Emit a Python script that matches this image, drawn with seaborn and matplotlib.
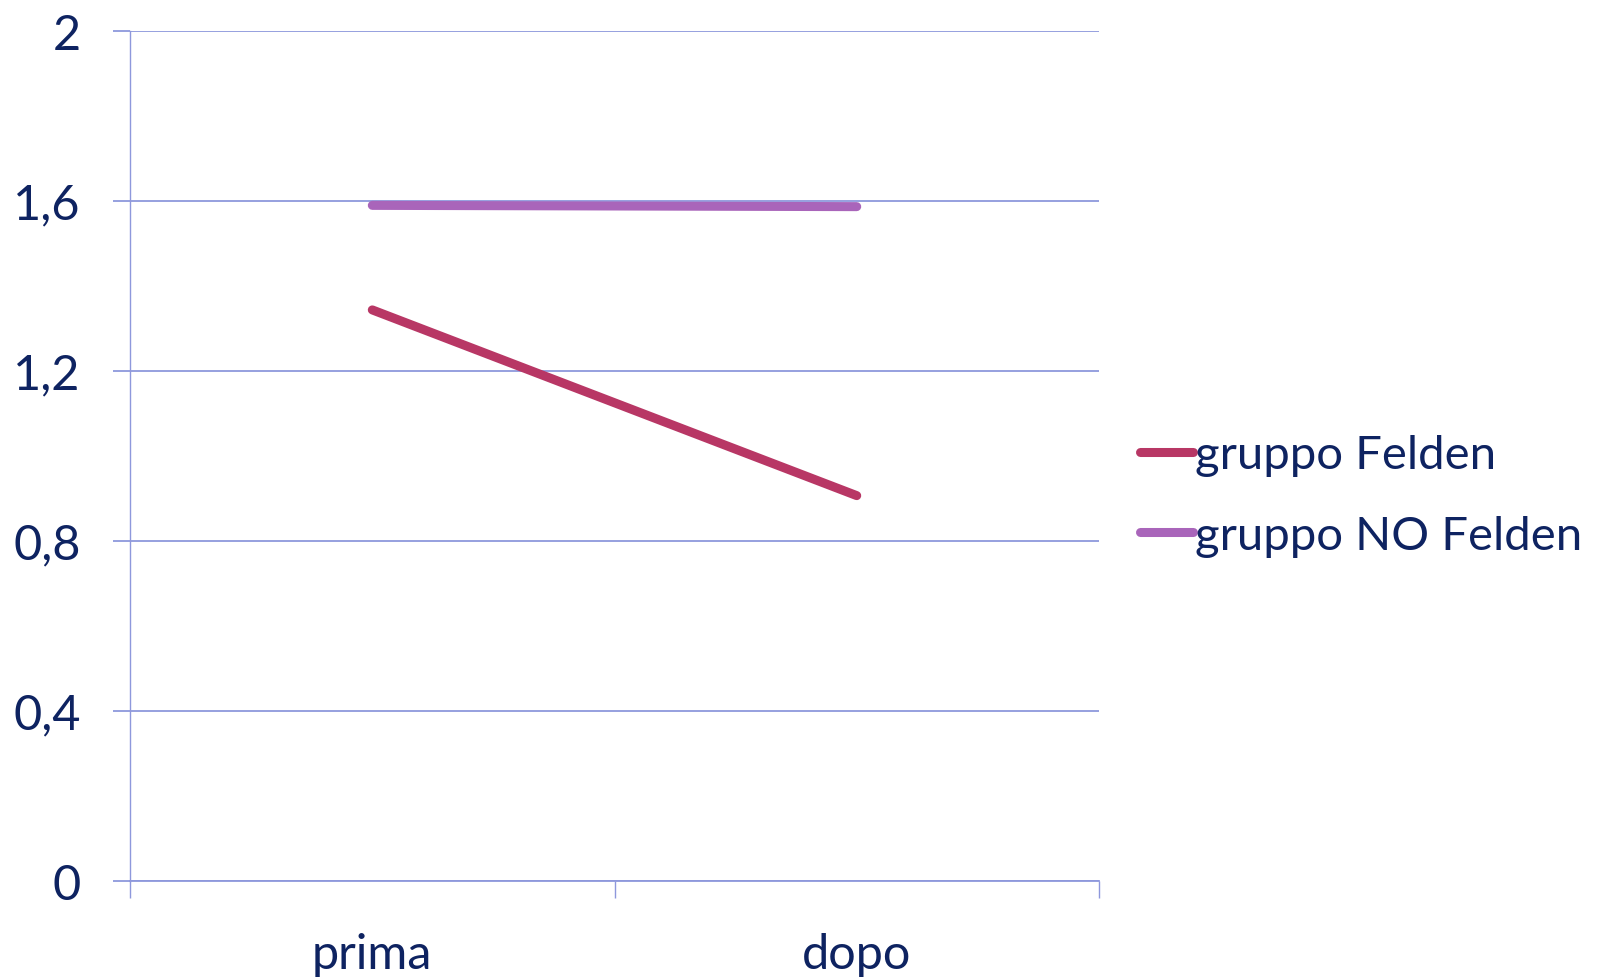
import matplotlib
matplotlib.use("Agg")
import matplotlib.pyplot as plt
import seaborn as sns
import pandas as pd
from matplotlib.ticker import FixedLocator, FuncFormatter

# Data
periods = ["prima", "dopo"]
series_names = ["gruppo Felden", "gruppo NO Felden"]
felden = [1.343, 0.906]
no_felden = [1.589, 1.586]
y_ticks = [0, 0.4, 0.8, 1.2, 1.6, 2.0]

df = pd.DataFrame({
    "periodo": periods * 2,
    "valore": felden + no_felden,
    "gruppo": [series_names[0]] * 2 + [series_names[1]] * 2,
})

sns.set_theme(style="white")
plt.rcParams["font.family"] = ["Lato", "DejaVu Sans"]

text_color = "#0E2361"
grid_color = "#8E98DC"
palette = {series_names[0]: "#B83765", series_names[1]: "#A965BA"}

fig = plt.figure(figsize=(15.98, 9.78), dpi=100)
ax = fig.add_axes([0.0814, 0.0985, 0.6063, 0.8691])

sns.lineplot(data=df, x="periodo", y="valore", hue="gruppo", palette=palette,
             linewidth=6.5, ax=ax, sort=False, legend=True)
for line in ax.get_lines():
    line.set_solid_capstyle("round")
    line.set_zorder(3)

ax.set_xlim(-0.5, 1.5)
ax.set_ylim(0, 2)
ax.set_xlabel("")
ax.set_ylabel("")

# horizontal gridlines
ax.yaxis.set_major_locator(FixedLocator(y_ticks))
ax.yaxis.set_major_formatter(FuncFormatter(lambda v, p: f"{v:g}".replace(".", ",")))
ax.grid(axis="y", color=grid_color, linewidth=1.3)
ax.grid(axis="x", visible=False)
ax.set_axisbelow(True)

# category boundaries as ticks, labels at category centers
ax.set_xticks([0, 1])
ax.set_xticklabels(periods)
ax.set_xticks([-0.5, 0.5, 1.5], minor=True)
ax.tick_params(axis="x", which="major", length=0, pad=37, labelsize=35, labelcolor=text_color)
ax.tick_params(axis="x", which="minor", length=12.5, width=1.0, color=grid_color, direction="out", bottom=True)
ax.tick_params(axis="y", which="major", length=12.5, width=1.3, color=grid_color, direction="out",
               pad=23, labelsize=35, labelcolor=text_color, left=True)

for side in ["top", "right"]:
    ax.spines[side].set_visible(False)
ax.spines["left"].set_color(grid_color)
ax.spines["left"].set_linewidth(1.0)
ax.spines["bottom"].set_color(grid_color)
ax.spines["bottom"].set_linewidth(1.3)

leg = ax.legend(loc="center left", bbox_to_anchor=(1.042, 0.453), frameon=False,
                fontsize=34, handlelength=1.12, handletextpad=0.05, labelspacing=0.82,
                borderaxespad=0, borderpad=0)
for txt in leg.get_texts():
    txt.set_color(text_color)
for h in leg.legend_handles:
    h.set_linewidth(6.5)
    h.set_solid_capstyle("round")

fig.savefig("out.png", dpi=100, facecolor="white")
